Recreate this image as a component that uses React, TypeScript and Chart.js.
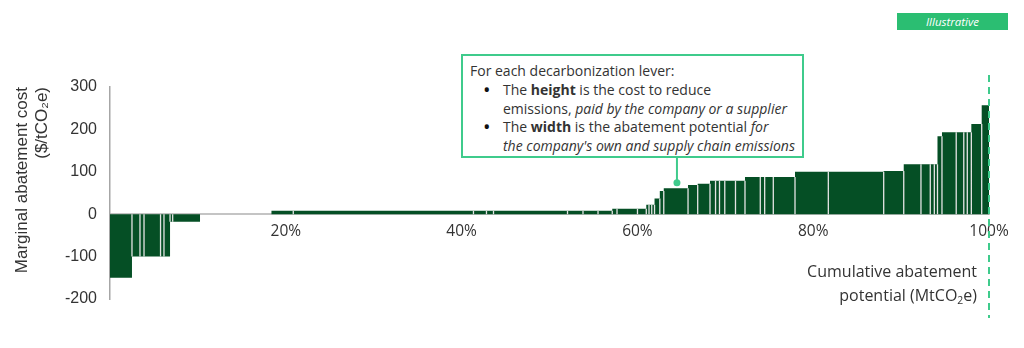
import React, { useEffect, useRef } from "react";
import { Chart, registerables } from "chart.js";

Chart.register(...registerables);

// Width of each decarbonization lever, in % of cumulative abatement potential
const leverWidths = [
  2.5, 0.91, 0.46, 1.88, 0.39, 0.69, 0.3, 3.11,
  8.13,
  2.48, 20.5, 1.48, 0.8, 8.42, 1.76, 1.71, 1.62,
  0.54, 2.33, 1.0,
  0.31, 0.31, 0.32, 0.6, 0.45, 2.76, 1.1, 1.4,
  0.63, 0.45, 0.6, 1.22, 1.08,
  1.74, 0.5, 0.98, 2.47,
  3.79, 6.3, 2.28,
  1.96, 1.06, 0.46, 0.36,
  0.51, 1.62, 0.86, 0.4, 0.46, 1.18, 0.83,
];

// Marginal abatement cost of each lever ($/tCO2e)
const leverCosts = [
  -150, -100, -100, -100, -100, -100, -18, -18,
  0,
  8, 8, 8, 8, 8, 8, 8, 8,
  13, 13, 13,
  22, 22, 22, 37, 55, 61, 69, 72,
  79, 79, 79, 79, 79,
  88, 88, 88, 88,
  100, 100, 102,
  118, 118, 118, 118,
  184, 193, 193, 193, 193, 213, 257,
];

const xTickValues = [0, 20, 40, 60, 80, 100];
const yTickValues = [-200, -100, 0, 100, 200, 300];
const yTitleLines = ["Marginal abatement cost", "($/tCO\u2082e)"];
const xTitleLine1 = "Cumulative abatement";
const pointerLever = { x: 64.5, y: 74 };

const DARK = "#054F25";
const TEAL = "#3FCB8C";
const TAG_GREEN = "#2BBE72";
const TEXT = "#333333";

export default function App() {
  const canvasRef = useRef<HTMLCanvasElement | null>(null);

  useEffect(() => {
    const starts: number[] = [];
    let acc = 0;
    leverWidths.forEach((w) => {
      starts.push(acc);
      acc += w;
    });
    const total = acc;

    const stepPoints = leverCosts.map((c, i) => ({ x: starts[i], y: c }));
    stepPoints.push({ x: total, y: leverCosts[leverCosts.length - 1] });

    const sepPoints: { x: number; y: number | null }[] = [];
    for (let i = 1; i < leverCosts.length; i++) {
      const a = leverCosts[i - 1];
      const b = leverCosts[i];
      if (a === 0 || b === 0 || Math.sign(a) !== Math.sign(b)) continue;
      const top = Math.sign(a) * Math.min(Math.abs(a), Math.abs(b));
      sepPoints.push({ x: starts[i], y: 0 }, { x: starts[i], y: top }, { x: starts[i], y: null });
    }

    const overlayPlugin = {
      id: "overlay",
      afterDatasetsDraw(chart: any) {
        const { ctx } = chart;
        const xs = chart.scales.x;
        const ys = chart.scales.y;
        ctx.save();
        const xd = xs.getPixelForValue(100);
        ctx.strokeStyle = TEAL;
        ctx.lineWidth = 2;
        ctx.setLineDash([7, 5]);
        ctx.beginPath();
        ctx.moveTo(xd, 75);
        ctx.lineTo(xd, 318);
        ctx.stroke();
        ctx.setLineDash([]);
        const px = xs.getPixelForValue(pointerLever.x);
        const py = ys.getPixelForValue(pointerLever.y);
        ctx.beginPath();
        ctx.moveTo(px, 158);
        ctx.lineTo(px, py);
        ctx.stroke();
        ctx.fillStyle = TEAL;
        ctx.beginPath();
        ctx.arc(px, py, 3.5, 0, Math.PI * 2);
        ctx.fill();
        ctx.restore();
      },
    };

    const chart = new Chart(canvasRef.current as HTMLCanvasElement, {
      type: "line",
      data: {
        datasets: [
          {
            label: "separators",
            data: sepPoints as any,
            borderColor: "#e4e4e4",
            borderWidth: 1.3,
            pointRadius: 0,
            fill: false,
            spanGaps: false,
            order: 0,
          },
          {
            label: "MACC",
            data: stepPoints,
            stepped: true,
            borderColor: "rgba(0,0,0,0)",
            borderWidth: 1,
            backgroundColor: DARK,
            fill: "origin",
            pointRadius: 0,
            order: 1,
          },
        ],
      },
      options: {
        responsive: false,
        animation: false,
        devicePixelRatio: 1,
        events: [],
        layout: { padding: { left: 0, top: 87, right: 35, bottom: 49 } },
        plugins: {
          legend: { display: false },
          tooltip: { enabled: false },
        },
        scales: {
          x: {
            type: "linear",
            min: 0,
            max: 100,
            position: { y: 0 } as any,
            afterBuildTicks: (s: any) => {
              s.ticks = xTickValues.map((v) => ({ value: v }));
            },
            ticks: {
              callback: (v: any) => (v === 0 ? "" : v + "%"),
              font: { family: "Open Sans", size: 15.5 },
              color: TEXT,
              padding: 8,
              maxRotation: 0,
              autoSkip: false,
            },
            grid: { display: false, drawTicks: false },
            border: { display: true, color: "#c4c4c4", width: 2 },
          },
          y: {
            type: "linear",
            min: -200,
            max: 300,
            position: "left",
            afterBuildTicks: (s: any) => {
              s.ticks = yTickValues.map((v) => ({ value: v }));
            },
            afterFit: (s: any) => {
              s.width = 110;
            },
            ticks: {
              font: { family: "Liberation Sans", size: 16 },
              color: TEXT,
              padding: 13,
            },
            grid: { display: false, drawTicks: false },
            border: { display: true, color: "#a6a6a6", width: 1.5 },
            title: {
              display: true,
              text: yTitleLines,
              align: "end",
              color: TEXT,
              font: { family: "Liberation Sans", size: 17, lineHeight: 1.2 },
              padding: { top: 12, bottom: 0 },
            },
          },
        },
      },
      plugins: [overlayPlugin],
    });
    return () => chart.destroy();
  }, []);

  const bulletStyle: React.CSSProperties = {
    width: 33,
    paddingLeft: 13,
    boxSizing: "border-box",
    flex: "none",
    fontSize: 20,
    lineHeight: "18.75px",
    color: "#111",
  };

  return (
    <div style={{ position: "absolute", left: 0, top: 0, width: 1024, height: 348, background: "#fff", overflow: "hidden" }}>
      <canvas ref={canvasRef} width={1024} height={348} style={{ position: "absolute", left: 0, top: 0, width: 1024, height: 348 }} />
      <div
        style={{
          position: "absolute",
          left: 897,
          top: 13,
          width: 111,
          height: 17,
          background: TAG_GREEN,
          color: "#fff",
          fontFamily: "Open Sans",
          fontStyle: "italic",
          fontSize: 11.5,
          lineHeight: "17px",
          textAlign: "center",
        }}
      >
        Illustrative
      </div>
      <div
        style={{
          position: "absolute",
          left: 461,
          top: 54,
          width: 343,
          height: 104,
          boxSizing: "border-box",
          border: `2px solid ${TEAL}`,
          background: "#fff",
          padding: "6px 0 0 7px",
          fontFamily: "Open Sans",
          fontSize: 14,
          lineHeight: "18.75px",
          color: TEXT,
          whiteSpace: "nowrap",
        }}
      >
        <div>For each decarbonization lever:</div>
        <div style={{ display: "flex" }}>
          <span style={bulletStyle}>•</span>
          <span>
            The <b>height</b> is the cost to reduce
            <br />
            emissions, <i>paid by the company or a supplier</i>
          </span>
        </div>
        <div style={{ display: "flex" }}>
          <span style={bulletStyle}>•</span>
          <span>
            The <b>width</b> is the abatement potential <i>for</i>
            <br />
            <i>the company's own and supply chain emissions</i>
          </span>
        </div>
      </div>
      <div
        style={{
          position: "absolute",
          left: 677,
          top: 260,
          width: 300,
          textAlign: "right",
          fontFamily: "Open Sans",
          fontSize: 16,
          lineHeight: "23.5px",
          color: TEXT,
          whiteSpace: "nowrap",
        }}
      >
        <div>{xTitleLine1}</div>
        <div>
          potential (MtCO<sub style={{ fontSize: "0.65em", verticalAlign: "-0.3em", lineHeight: 0 }}>2</sub>e)
        </div>
      </div>
    </div>
  );
}
